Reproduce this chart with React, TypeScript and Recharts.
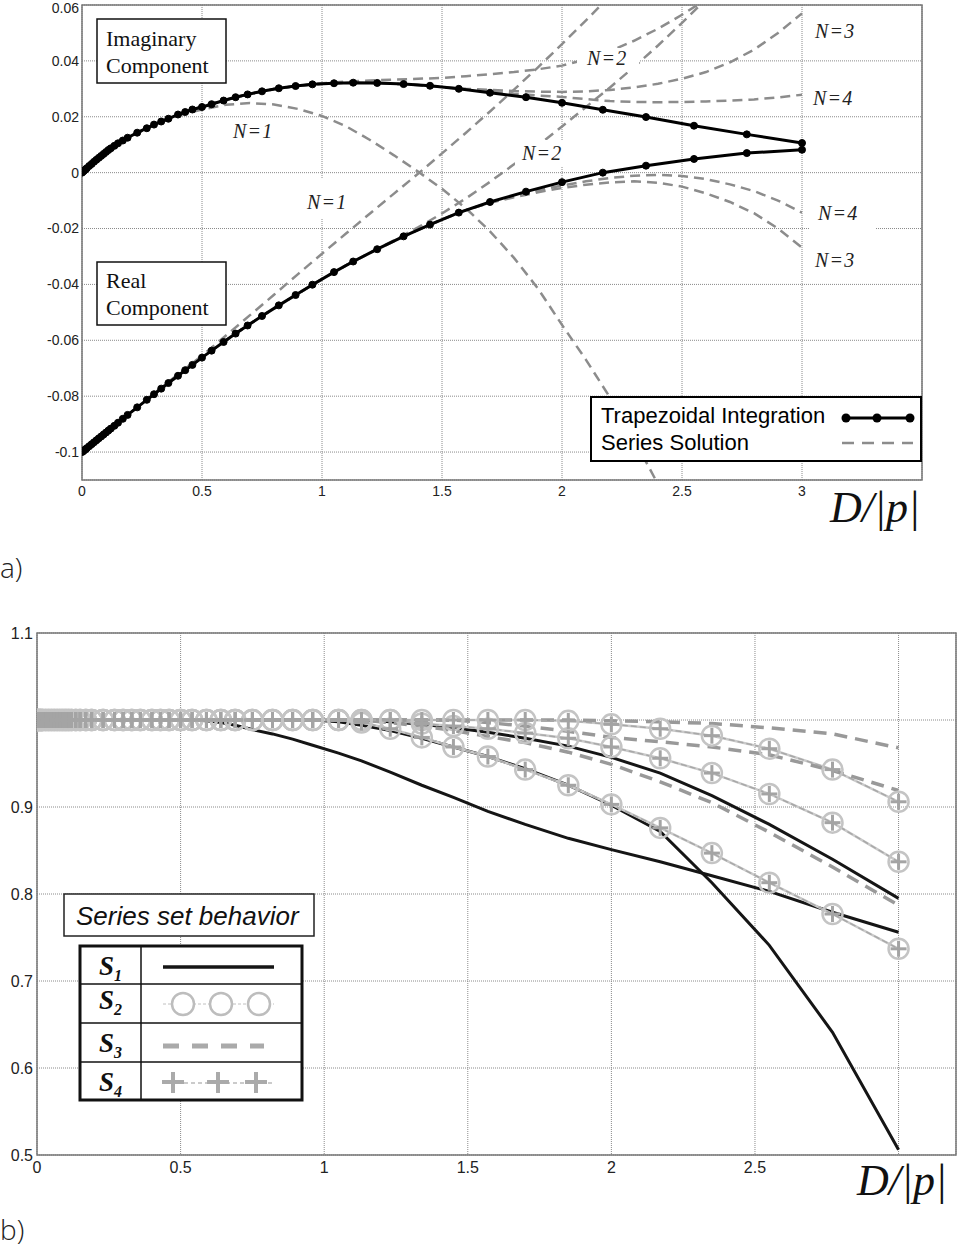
import React from "react";
import { LineChart, Line, XAxis, YAxis, CartesianGrid, ReferenceArea } from "recharts";

// ---------- a) trapezoidal integration samples ----------
const trapX = [
  0, 0.005, 0.01, 0.015, 0.02, 0.03, 0.04, 0.05, 0.06, 0.07, 0.08, 0.09, 0.1, 0.11, 0.12, 0.135, 0.15, 0.17,
  0.19, 0.23, 0.27, 0.3, 0.33, 0.36, 0.4, 0.43, 0.46, 0.5, 0.54, 0.59, 0.64, 0.69, 0.75, 0.82, 0.89, 0.96, 1.05,
  1.13, 1.23, 1.34, 1.45, 1.57, 1.7, 1.85, 2.0, 2.17, 2.35, 2.55, 2.77, 3.0,
];
const trapImag = [
  0, 0.0004, 0.0008, 0.0012, 0.0016, 0.0024, 0.0031, 0.0039, 0.0046, 0.0053, 0.006, 0.0067, 0.0074, 0.0081,
  0.0087, 0.0096, 0.0105, 0.0115, 0.0125, 0.0143, 0.0159, 0.0172, 0.0183, 0.0193, 0.0208, 0.0217, 0.0226,
  0.0235, 0.0245, 0.0258, 0.027, 0.028, 0.0291, 0.0302, 0.031, 0.0316, 0.032, 0.0322, 0.0321, 0.0317, 0.0311,
  0.03, 0.0286, 0.027, 0.025, 0.0225, 0.0199, 0.0168, 0.0137, 0.0106,
];
const trapReal = [
  -0.1, -0.0997, -0.0993, -0.099, -0.0986, -0.0979, -0.0972, -0.0965, -0.0958, -0.0951, -0.0944, -0.0937,
  -0.093, -0.0923, -0.0916, -0.0906, -0.0895, -0.0881, -0.0867, -0.084, -0.0813, -0.0793, -0.0773, -0.0753,
  -0.0727, -0.0707, -0.0688, -0.0662, -0.0637, -0.0606, -0.0576, -0.0547, -0.0513, -0.0475, -0.0438, -0.0401,
  -0.0356, -0.0318, -0.0274, -0.0228, -0.0186, -0.0143, -0.0105, -0.0068, -0.0034, 0.0, 0.0025, 0.0049, 0.007,
  0.0082,
];

// ---------- a) series solution, N = 1..4 ----------
const seriesX = [
  0, 0.1, 0.2, 0.3, 0.4, 0.5, 0.6, 0.7, 0.8, 0.9, 1.0, 1.1, 1.2, 1.3, 1.4, 1.5, 1.6, 1.7, 1.8, 1.9, 2.0, 2.1,
  2.2, 2.3, 2.4, 2.5, 2.6, 2.7, 2.8, 2.9, 3.0,
];
const imagN1 = [
  0, 0.0074, 0.0129, 0.0171, 0.0204, 0.0226, 0.0243, 0.0249, 0.0244, 0.0228, 0.0203, 0.0166, 0.0117, 0.0062,
  0.0004, -0.0058, -0.0128, -0.021, -0.0305, -0.0415, -0.0545, -0.067, -0.0805, -0.0955, -0.1115, null, null,
  null, null, null, null,
];
const imagN2 = [
  0, 0.0074, 0.0129, 0.0172, 0.0208, 0.0236, 0.0261, 0.0282, 0.0299, 0.0311, 0.032, 0.0326, 0.033, 0.0333,
  0.0336, 0.0339, 0.0345, 0.0352, 0.036, 0.037, 0.0383, 0.0405, 0.0435, 0.0472, 0.0515, 0.0565, 0.062, null,
  null, null, null,
];
const imagN3 = [
  0, 0.0074, 0.0129, 0.0172, 0.0208, 0.0236, 0.0261, 0.0282, 0.0299, 0.0311, 0.0318, 0.0322, 0.0322, 0.0318,
  0.0314, 0.0306, 0.03, 0.0296, 0.0292, 0.029, 0.0289, 0.0291, 0.0296, 0.0305, 0.0318, 0.0336, 0.036, 0.0395,
  0.044, 0.05, 0.057,
];
const imagN4 = [
  0, 0.0074, 0.0129, 0.0172, 0.0208, 0.0236, 0.0261, 0.0282, 0.0299, 0.0311, 0.0318, 0.0322, 0.0322, 0.0318,
  0.0314, 0.0306, 0.0298, 0.029, 0.0282, 0.0276, 0.0271, 0.0263, 0.0256, 0.0253, 0.0252, 0.0253, 0.0255,
  0.0258, 0.0262, 0.0269, 0.0279,
];
const realN1 = [
  -0.1, -0.093, -0.086, -0.0791, -0.0722, -0.0655, -0.0583, -0.051, -0.0437, -0.0363, -0.029, -0.0218,
  -0.0146, -0.0075, -0.0004, 0.0069, 0.0143, 0.0219, 0.0297, 0.0377, 0.046, 0.0545, 0.0632, null, null, null,
  null, null, null, null, null,
];
const realN2 = [
  -0.1, -0.093, -0.086, -0.0793, -0.0727, -0.0662, -0.06, -0.0541, -0.0486, -0.0433, -0.0381, -0.0332,
  -0.0287, -0.0242, -0.0196, -0.0146, -0.0092, -0.0033, 0.003, 0.0097, 0.0165, 0.0235, 0.0305, 0.0378, 0.0455,
  0.0536, 0.062, null, null, null, null,
];
const realN3 = [
  -0.1, -0.093, -0.086, -0.0793, -0.0727, -0.0662, -0.06, -0.0541, -0.0486, -0.0433, -0.0381, -0.0332,
  -0.0287, -0.0245, -0.0205, -0.0168, -0.0134, -0.0108, -0.0088, -0.007, -0.0055, -0.0043, -0.0035, -0.0031,
  -0.0036, -0.005, -0.0074, -0.0105, -0.0145, -0.02, -0.0268,
];
const realN4 = [
  -0.1, -0.093, -0.086, -0.0793, -0.0727, -0.0662, -0.06, -0.0541, -0.0486, -0.0433, -0.0381, -0.0332,
  -0.0287, -0.0245, -0.0205, -0.0168, -0.0134, -0.0107, -0.0085, -0.0064, -0.0046, -0.0031, -0.0019, -0.0011,
  -0.0008, -0.0012, -0.0023, -0.0042, -0.0066, -0.01, -0.0143,
];

const xTicksA = [0, 0.5, 1, 1.5, 2, 2.5, 3];
const yTicksA = [-0.1, -0.08, -0.06, -0.04, -0.02, 0, 0.02, 0.04, 0.06];

// ---------- b) series set behavior (same D/|p| samples as trapX) ----------
const s1a = [
  1, 1, 1, 1, 1, 1, 1, 1, 1, 1,
  1, 1, 1, 1, 1, 1, 1, 1, 1, 1,
  1, 1, 1, 1, 1, 1, 1, 1, 1, 0.999,
  0.997, 0.994, 0.989, 0.984, 0.978, 0.971, 0.962, 0.953, 0.94, 0.925,
  0.911, 0.895, 0.88, 0.864, 0.851, 0.837, 0.821, 0.803, 0.779, 0.756,
];
const s1b = [
  1, 1, 1, 1, 1, 1, 1, 1, 1, 1,
  1, 1, 1, 1, 1, 1, 1, 1, 1, 1,
  1, 1, 1, 1, 1, 1, 1, 1, 1, 1,
  1, 1, 1, 1, 1, 1, 0.998, 0.994, 0.988, 0.979,
  0.969, 0.958, 0.944, 0.925, 0.902, 0.872, 0.813, 0.741, 0.641, 0.506,
];
const s1c = [
  1, 1, 1, 1, 1, 1, 1, 1, 1, 1,
  1, 1, 1, 1, 1, 1, 1, 1, 1, 1,
  1, 1, 1, 1, 1, 1, 1, 1, 1, 1,
  1, 1, 1, 1, 1, 1, 1, 1, 0.998, 0.995,
  0.991, 0.986, 0.979, 0.97, 0.957, 0.939, 0.913, 0.88, 0.84, 0.795,
];
const m1 = [
  1, 1, 1, 1, 1, 1, 1, 1, 1, 1,
  1, 1, 1, 1, 1, 1, 1, 1, 1, 1,
  1, 1, 1, 1, 1, 1, 1, 1, 1, 1,
  1, 1, 1, 1, 1, 1, 1, 0.997, 0.99, 0.98,
  0.969, 0.958, 0.943, 0.925, 0.903, 0.876, 0.847, 0.813, 0.777, 0.737,
];
const m2 = [
  1, 1, 1, 1, 1, 1, 1, 1, 1, 1,
  1, 1, 1, 1, 1, 1, 1, 1, 1, 1,
  1, 1, 1, 1, 1, 1, 1, 1, 1, 1,
  1, 1, 1, 1, 1, 1, 1, 1, 1, 0.996,
  0.993, 0.99, 0.985, 0.979, 0.969, 0.956, 0.939, 0.915, 0.882, 0.837,
];
const m3 = [
  1, 1, 1, 1, 1, 1, 1, 1, 1, 1,
  1, 1, 1, 1, 1, 1, 1, 1, 1, 1,
  1, 1, 1, 1, 1, 1, 1, 1, 1, 1,
  1, 1, 1, 1, 1, 1, 1, 1, 1, 1,
  1, 1, 1, 0.999, 0.995, 0.99, 0.982, 0.967, 0.943, 0.906,
];
const d1 = [
  1, 1, 1, 1, 1, 1, 1, 1, 1, 1,
  1, 1, 1, 1, 1, 1, 1, 1, 1, 1,
  1, 1, 1, 1, 1, 1, 1, 1, 1, 1,
  1, 1, 1, 1, 1, 1, 1, 1, 1, 1,
  1, 1, 1, 1, 0.999, 0.998, 0.996, 0.991, 0.984, 0.968,
];
const d2 = [
  1, 1, 1, 1, 1, 1, 1, 1, 1, 1,
  1, 1, 1, 1, 1, 1, 1, 1, 1, 1,
  1, 1, 1, 1, 1, 1, 1, 1, 1, 1,
  1, 1, 1, 1, 1, 1, 1, 1, 1, 1,
  1, 0.997, 0.993, 0.987, 0.98, 0.975, 0.969, 0.96, 0.942, 0.919,
];
const d3 = [
  1, 1, 1, 1, 1, 1, 1, 1, 1, 1,
  1, 1, 1, 1, 1, 1, 1, 1, 1, 1,
  1, 1, 1, 1, 1, 1, 1, 1, 1, 1,
  1, 1, 1, 1, 1, 1, 1, 1, 0.997, 0.993,
  0.988, 0.981, 0.974, 0.963, 0.949, 0.929, 0.905, 0.871, 0.831, 0.787,
];

const xTicksB = [0, 0.5, 1, 1.5, 2, 2.5, 3];
const yTicksB = [0.5, 0.6, 0.7, 0.8, 0.9, 1, 1.1];

const trapRows = trapX.map((x, i) => ({ x, imag: trapImag[i], real: trapReal[i] }));
const seriesRows = seriesX.map((x, i) => ({
  x,
  i1: imagN1[i],
  i2: imagN2[i],
  i3: imagN3[i],
  i4: imagN4[i],
  r1: realN1[i],
  r2: realN2[i],
  r3: realN3[i],
  r4: realN4[i],
}));
const bRows = trapX.map((x, i) => ({
  x,
  s1a: s1a[i],
  s1b: s1b[i],
  s1c: s1c[i],
  m1: m1[i],
  m2: m2[i],
  m3: m3[i],
  d1: d1[i],
  d2: d2[i],
  d3: d3[i],
}));

const GRID = "#8a8a8a";
const FRAME = "#777";
const SANS = "'Liberation Sans', Arial, sans-serif";
const SERIF = "'Liberation Serif', 'Times New Roman', serif";

const RingDot = (p: any) => (
  <circle key={`ring-${p.index}`} cx={p.cx} cy={p.cy} r={10} fill="none" stroke="#c4c4c4" strokeWidth={2.5} />
);
const PlusDot = (p: any) => (
  <g key={`plus-${p.index}`}>
    <line x1={p.cx - 8} y1={p.cy} x2={p.cx + 8} y2={p.cy} stroke="#a4a4a4" strokeWidth={3} />
    <line x1={p.cx} y1={p.cy - 8} x2={p.cx} y2={p.cy + 8} stroke="#a4a4a4" strokeWidth={3} />
  </g>
);

function fmtA(v: number) {
  return String(Number(v.toFixed(2)));
}

function ChartA() {
  const dashed = { stroke: "#8c8c8c", strokeWidth: 2.5, strokeDasharray: "10 6", dot: false };
  return (
    <LineChart width={957} height={500} margin={{ top: 5, right: 35, bottom: 0, left: 0 }}>
      <CartesianGrid stroke={GRID} strokeDasharray="1 1" />
      <XAxis
        type="number"
        dataKey="x"
        domain={[0, 3.5]}
        ticks={xTicksA}
        allowDataOverflow
        height={20}
        axisLine={false}
        tickLine={false}
        tickSize={0}
        tickMargin={6}
        tick={{ fontSize: 14, fill: "#222", fontFamily: SANS }}
      />
      <YAxis
        type="number"
        domain={[-0.11, 0.06]}
        ticks={yTicksA}
        allowDataOverflow
        width={82}
        axisLine={false}
        tickLine={false}
        tickSize={0}
        tickMargin={3}
        tickFormatter={fmtA}
        tick={{ fontSize: 14, fill: "#222", fontFamily: SANS }}
      />
      <ReferenceArea x1={0} x2={3.5} y1={-0.11} y2={0.06} fill="none" stroke={FRAME} strokeWidth={1.5} />
      {["i1", "i2", "i3", "i4", "r1", "r2", "r3", "r4"].map((k) => (
        <Line key={k} data={seriesRows} dataKey={k} {...dashed} isAnimationActive={false} />
      ))}
      <Line
        data={trapRows}
        dataKey="imag"
        stroke="#000"
        strokeWidth={3}
        dot={{ r: 3.5, fill: "#000", stroke: "#000", strokeWidth: 1 }}
        isAnimationActive={false}
      />
      <Line
        data={trapRows}
        dataKey="real"
        stroke="#000"
        strokeWidth={3}
        dot={{ r: 3.5, fill: "#000", stroke: "#000", strokeWidth: 1 }}
        isAnimationActive={false}
      />
    </LineChart>
  );
}

function ChartB() {
  return (
    <LineChart width={957} height={600} data={bRows} margin={{ top: 33, right: 1, bottom: 0, left: 0 }}>
      <CartesianGrid stroke={GRID} strokeDasharray="1 1" />
      <XAxis
        type="number"
        dataKey="x"
        domain={[0, 3.2]}
        ticks={xTicksB}
        allowDataOverflow
        height={45}
        axisLine={false}
        tickLine={false}
        tickSize={0}
        tickMargin={7}
        tickFormatter={(v: number) => (v === 3 ? "" : String(v))}
        tick={{ fontSize: 16, fill: "#222", fontFamily: SANS }}
      />
      <YAxis
        type="number"
        domain={[0.5, 1.1]}
        ticks={yTicksB}
        allowDataOverflow
        width={37}
        axisLine={false}
        tickLine={false}
        tickSize={0}
        tickMargin={4}
        tickFormatter={(v: number) => (v === 1 ? "" : v.toFixed(1))}
        tick={{ fontSize: 16, fill: "#222", fontFamily: SANS }}
      />
      <ReferenceArea x1={0} x2={3.2} y1={0.5} y2={1.1} fill="none" stroke={FRAME} strokeWidth={1.5} />
      {["s1a", "s1b", "s1c"].map((k) => (
        <Line key={k} dataKey={k} stroke="#151515" strokeWidth={3} dot={false} isAnimationActive={false} />
      ))}
      {["m1", "m2", "m3"].map((k) => (
        <Line key={`s2-${k}`} dataKey={k} stroke="#cacaca" strokeWidth={2.5} dot={RingDot} isAnimationActive={false} />
      ))}
      {["d1", "d2", "d3"].map((k) => (
        <Line
          key={k}
          dataKey={k}
          stroke="#999"
          strokeWidth={3.5}
          strokeDasharray="13 8"
          dot={false}
          isAnimationActive={false}
        />
      ))}
      {["m1", "m2", "m3"].map((k) => (
        <Line
          key={`s4-${k}`}
          dataKey={k}
          stroke="#a8a8a8"
          strokeWidth={1.5}
          strokeDasharray="6 3"
          dot={PlusDot}
          isAnimationActive={false}
        />
      ))}
    </LineChart>
  );
}

function NLabel({ x, y, w, h, tx, ty, text }: any) {
  return (
    <g>
      <rect x={x} y={y} width={w} height={h} fill="#fff" />
      <text x={tx} y={ty} fontFamily={SERIF} fontStyle="italic" fontSize={20} letterSpacing={1.2} fill="#222">
        {text}
      </text>
    </g>
  );
}

function SLabel({ y, n }: { y: number; n: string }) {
  return (
    <text x={99} y={y} fontFamily={SERIF} fontStyle="italic" fontWeight="bold" fontSize={27} fill="#111">
      S
      <tspan dy={6} fontSize={16}>
        {n}
      </tspan>
    </text>
  );
}

function Overlay() {
  return (
    <svg
      width={957}
      height={1249}
      style={{ position: "absolute", left: 0, top: 0, pointerEvents: "none" }}
    >
      {/* a) text boxes */}
      <rect x={97} y={19} width={129} height={64} fill="#fff" stroke="#111" strokeWidth={1.5} />
      <text x={106} y={46} fontFamily={SERIF} fontSize={22} fill="#111">Imaginary</text>
      <text x={106} y={73} fontFamily={SERIF} fontSize={22} fill="#111">Component</text>
      <rect x={97} y={262} width={129} height={63} fill="#fff" stroke="#111" strokeWidth={1.5} />
      <text x={106} y={288} fontFamily={SERIF} fontSize={22} fill="#111">Real</text>
      <text x={106} y={315} fontFamily={SERIF} fontSize={22} fill="#111">Component</text>

      <NLabel x={224} y={119} w={66} h={24} tx={233} ty={138} text="N=1" />
      <NLabel x={301} y={179} w={52} h={40} tx={307} ty={209} text="N=1" />
      <NLabel x={577} y={48} w={62} h={24} tx={587} ty={65} text="N=2" />
      <NLabel x={515} y={140} w={54} h={27} tx={522} ty={160} text="N=2" />
      <NLabel x={809} y={19} w={52} h={24} tx={815} ty={38} text="N=3" />
      <NLabel x={807} y={86} w={54} h={24} tx={813} ty={105} text="N=4" />
      <NLabel x={810} y={201} w={65} h={30} tx={818} ty={220} text="N=4" />
      <NLabel x={809} y={249} w={52} h={24} tx={815} ty={267} text="N=3" />

      {/* a) legend */}
      <rect x={591} y={397} width={330} height={64} fill="#fff" stroke="#000" strokeWidth={2} />
      <text x={601} y={423} fontFamily={SANS} fontSize={22} fill="#000">Trapezoidal Integration</text>
      <text x={601} y={450} fontFamily={SANS} fontSize={22} fill="#000">Series Solution</text>
      <line x1={844} y1={418} x2={910} y2={418} stroke="#000" strokeWidth={3} />
      <circle cx={846} cy={418} r={4.5} fill="#000" />
      <circle cx={877} cy={418} r={4.5} fill="#000" />
      <circle cx={910} cy={418} r={4.5} fill="#000" />
      <line x1={842} y1={443} x2={913} y2={443} stroke="#8c8c8c" strokeWidth={2.5} strokeDasharray="12 8" />

      <text x={830} y={522} fontFamily={SERIF} fontStyle="italic" fontSize={44} fill="#111">D/|p|</text>
      <text x={0} y={578} fontFamily="'Open Sans', sans-serif" fontWeight={300} fontSize={28} fill="#222">a)</text>

      {/* b) legend */}
      <rect x={64} y={894} width={250} height={42} fill="#fff" stroke="#222" strokeWidth={1.5} />
      <text x={76} y={925} fontFamily={SANS} fontStyle="italic" fontSize={26} fill="#111">Series set behavior</text>

      <rect x={80} y={946} width={222} height={154} fill="#fff" stroke="#111" strokeWidth={3} />
      <line x1={141} y1={946} x2={141} y2={1100} stroke="#111" strokeWidth={1.5} />
      <line x1={80} y1={984} x2={302} y2={984} stroke="#111" strokeWidth={1.5} />
      <line x1={80} y1={1023} x2={302} y2={1023} stroke="#111" strokeWidth={1.5} />
      <line x1={80} y1={1062} x2={302} y2={1062} stroke="#111" strokeWidth={1.5} />
      <SLabel y={975} n="1" />
      <SLabel y={1009} n="2" />
      <SLabel y={1052} n="3" />
      <SLabel y={1091} n="4" />

      <line x1={163} y1={967} x2={274} y2={967} stroke="#151515" strokeWidth={3.5} />
      <line x1={163} y1={1004} x2={274} y2={1004} stroke="#c0c0c0" strokeWidth={1} strokeDasharray="3 2" />
      {[183, 221, 259].map((cx) => (
        <circle key={cx} cx={cx} cy={1004} r={11} fill="#fff" stroke="#bdbdbd" strokeWidth={2.5} />
      ))}
      <line x1={163} y1={1046} x2={264} y2={1046} stroke="#aaa" strokeWidth={5} strokeDasharray="16 13" />
      <line x1={163} y1={1083} x2={275} y2={1083} stroke="#bbb" strokeWidth={1.5} strokeDasharray="4 3" />
      {[173, 218, 256].map((cx) => (
        <g key={cx}>
          <line x1={cx - 11} y1={1082} x2={cx + 11} y2={1082} stroke="#aaa" strokeWidth={4} />
          <line x1={cx} y1={1072} x2={cx} y2={1093} stroke="#aaa" strokeWidth={4} />
        </g>
      ))}

      <text x={857} y={1195} fontFamily={SERIF} fontStyle="italic" fontSize={44} fill="#111">D/|p|</text>
      <text x={0} y={1240} fontFamily="'Open Sans', sans-serif" fontWeight={300} fontSize={28} fill="#222">b)</text>
    </svg>
  );
}

export default function App() {
  return (
    <div
      style={{
        position: "absolute",
        left: 0,
        top: 0,
        width: 957,
        height: 1249,
        overflow: "hidden",
        background: "#fff",
      }}
    >
      <div style={{ position: "absolute", left: 0, top: 0 }}>
        <ChartA />
      </div>
      <div style={{ position: "absolute", left: 0, top: 600 }}>
        <ChartB />
      </div>
      <Overlay />
    </div>
  );
}
